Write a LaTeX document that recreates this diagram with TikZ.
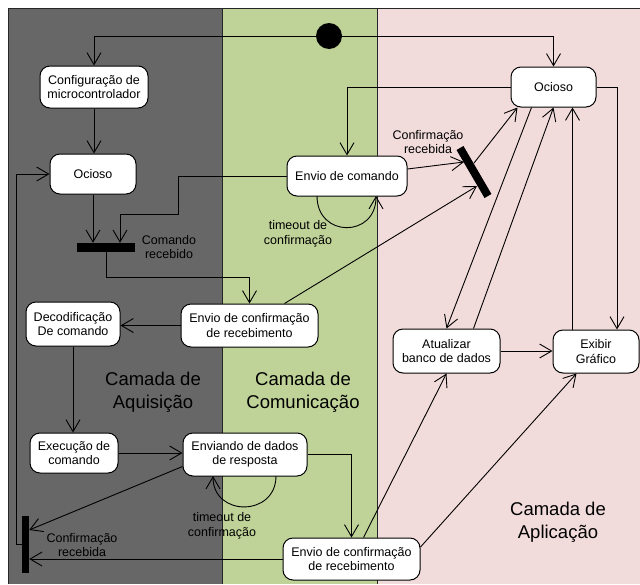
\documentclass[tikz,border=0pt]{standalone}
\usepackage{fontspec}
\setmainfont{Liberation Sans}
\usetikzlibrary{arrows.meta,calc}
\definecolor{lanea}{RGB}{103,103,103}
\definecolor{laneb}{RGB}{191,210,151}
\definecolor{lanec}{RGB}{242,220,219}
\begin{document}
\begin{tikzpicture}[x=1pt,y=-1pt,
  every node/.style={font=\fontsize{12.5}{14.5}\selectfont},
  act/.style={draw=black, fill=white, rounded corners=10pt, line width=1pt, align=center, inner sep=0pt},
  arr/.style={-{Straight Barb[length=12pt,width=14pt]}, line width=0.9pt},
  ln/.style={line width=0.9pt},
  lbl/.style={align=center, inner sep=0pt},
  big/.style={align=center, inner sep=0pt, font=\fontsize{18.5}{23}\selectfont},
  barnode/.style={fill=black, inner sep=0pt}]
\useasboundingbox (0,0) rectangle (640,584);
\fill[white] (0,0) rectangle (640,584);
% lanes
\fill[lanea] (8,8) rectangle (222,584);
\fill[laneb] (222,8) rectangle (377,584);
\fill[lanec] (377,8) rectangle (640,584);
\draw[line width=1pt, black!85] (8,584) -- (8,8) -- (640,8);
\draw[line width=1pt, black!85] (222,8) -- (222,584);
\draw[line width=1pt, black!85] (377,8) -- (377,584);
% lane titles
\node[big] (tA) at (153,392) {Camada de\\Aquisição};
\node[big] (tB) at (303,392) {Camada de\\Comunicação};
\node[big] (tC) at (558,522) {Camada de\\Aplicação};
% start
\node[circle, fill=black, minimum size=26pt, inner sep=0pt] (dot) at (329,36) {};
% activities
\node[act, minimum width=108pt, minimum height=42pt] (cfg) at (94,87) {Configuração de\\microcontrolador};
\node[act, minimum width=86pt, minimum height=40pt] (ocL) at (93,174) {Ocioso};
\node[act, minimum width=120pt, minimum height=40pt] (envcmd) at (347,176) {Envio de comando};
\node[act, minimum width=85pt, minimum height=40pt] (ocR) at (553.5,87) {Ocioso};
\node[act, minimum width=137pt, minimum height=43pt] (envconf) at (249.5,325.5) {Envio de confirmação\\de recebimento};
\node[act, minimum width=94pt, minimum height=44pt] (decod) at (73,324) {Decodificação\\De comando};
\node[act, minimum width=88pt, minimum height=40pt] (exec) at (74,453) {Execução de\\comando};
\node[act, minimum width=124pt, minimum height=43pt] (enviando) at (245,454.5) {Enviando de dados\\de resposta};
\node[act, minimum width=137pt, minimum height=42pt] (envconf2) at (351.5,559) {Envio de confirmação\\de recebimento};
\node[act, minimum width=107pt, minimum height=44pt] (atual) at (446.5,351) {Atualizar\\banco de dados};
\node[act, minimum width=86pt, minimum height=43pt] (exibir) at (596,351.5) {Exibir\\Gráfico};
% bars
\node[barnode, minimum width=58pt, minimum height=9pt] (bar1) at (106,247.5) {};
\node[barnode, minimum width=7pt, minimum height=57pt] (bar3) at (25.5,544.5) {};
\coordinate (b2s) at (460,148);
\coordinate (b2e) at (488,196);
\draw[line width=8pt] (b2s) -- (b2e);
\coordinate (b2in1) at (464,162);
\coordinate (b2in2) at (477,186);
\coordinate (b2out) at (474,163);
% labels
\node[lbl] (lconf1) at (428,142) {Confirmação\\recebida};
\node[lbl] (lcmd) at (169,247) {Comando\\recebido};
\node[lbl] (lconf2) at (82,545) {Confirmação\\recebida};
\node[lbl] (lto1) at (298,234) {timeout de\\confirmação};
\node[lbl] (lto2) at (222,526) {timeout de\\confirmação};
% helper coordinates
\coordinate (j1) at (178,214);
\coordinate (ex1) at ($(exibir.north west)+(20,0)$);
\coordinate (s1) at (317,196);
\coordinate (e1) at (376,196);
\coordinate (s2) at (276,476);
\coordinate (e2) at (213,476);
% connectors
\draw[arr] (dot.west) -| (cfg.north);
\draw[arr] (dot.east) -| (ocR.north);
\draw[arr] (cfg.south) -- (cfg.south |- ocL.north);
\draw[arr] (ocL.south) -- (ocL.south |- bar1.north);
\draw[arr] (envcmd.west) -| (j1) -| ($(bar1.north)+(14,0)$);
\draw[arr] (bar1.south) -- ++(0,25) -| (envconf.north);
\draw[arr] (envconf.west) -- (envconf.west -| decod.east);
\draw[arr] ($(envconf.north east)+(-34,0)$) -- (b2in2);
\draw[arr] ($(envcmd.east)+(0,-7)$) -- (b2in1);
\draw[arr] (b2out) -- ($(ocR.south west)+(7,0)$);
\draw[arr] ($(ocR.south west)+(21,0)$) -- (atual.north);
\draw[arr] ($(atual.north)+(27,0)$) -- (ocR.south);
\draw[arr] (ex1) -- (ex1 |- ocR.south);
\draw[arr] (ocR.east) -| ($(exibir.north)+(21,0)$);
\draw[arr] (atual.east) -- (atual.east -| exibir.west);
\draw[arr] (ocR.west) -| (envcmd.north);
\draw[arr] (s1) .. controls (317,238) and (376,238) .. (e1);
\draw[arr] (decod.south) -- (decod.south |- exec.north);
\draw[arr] (exec.east) -- (exec.east -| enviando.west);
\draw[arr] ($(enviando.west)+(0,12)$) -- ($(bar3.east)+(0,-14.5)$);
\draw[arr] (enviando.east) -| (envconf2.north);
\draw[arr] (s2) .. controls (276,517) and (213,517) .. (e2);
\draw[arr] (envconf2.west) -- (envconf2.west -| bar3.east);
\draw[arr] (bar3.west) -- ++(-5,0) |- (ocL.west);
\draw[arr] ($(envconf2.north)+(12,0)$) -- (atual.south);
\draw[arr] ($(envconf2.east)+(0,-12)$) -- ($(exibir.south west)+(24,0)$);
\end{tikzpicture}
\end{document}
